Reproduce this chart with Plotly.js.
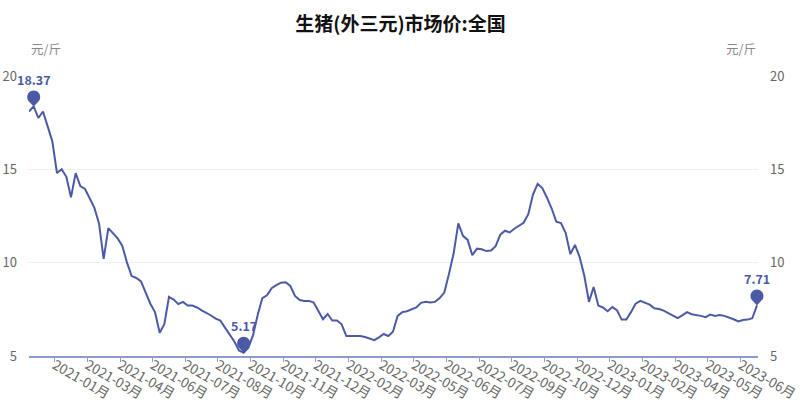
<!DOCTYPE html>
<html>
<head>
<meta charset="utf-8">
<script src="https://cdn.plot.ly/plotly-3.0.1.min.js"></script>
<style>html,body{margin:0;padding:0;background:#fff;}#chart{width:801px;height:413px;}</style>
</head>
<body>
<div id="chart"></div>
<script>
const dates = [
"2020-12-17","2020-12-23","2020-12-29",
"2021-01-04","2021-01-10","2021-01-16","2021-01-22","2021-01-28",
"2021-02-03","2021-02-09","2021-02-15","2021-02-21","2021-02-27",
"2021-03-05","2021-03-11","2021-03-17","2021-03-23","2021-03-29",
"2021-04-04","2021-04-10","2021-04-16","2021-04-22","2021-04-28",
"2021-05-04","2021-05-10","2021-05-16","2021-05-22","2021-05-28",
"2021-06-03","2021-06-09","2021-06-15","2021-06-21","2021-06-27",
"2021-07-03","2021-07-09","2021-07-15","2021-07-21","2021-07-27",
"2021-08-02","2021-08-08","2021-08-14","2021-08-20","2021-08-26",
"2021-09-01","2021-09-07","2021-09-13","2021-09-19","2021-09-25",
"2021-10-01","2021-10-07","2021-10-13","2021-10-19","2021-10-25","2021-10-31",
"2021-11-06","2021-11-12","2021-11-18","2021-11-24","2021-11-30",
"2021-12-06","2021-12-12","2021-12-18","2021-12-24","2021-12-30",
"2022-01-05","2022-01-11","2022-01-17","2022-01-23","2022-01-29",
"2022-02-04","2022-02-10","2022-02-16","2022-02-22","2022-02-28",
"2022-03-06","2022-03-12","2022-03-18","2022-03-24","2022-03-30",
"2022-04-05","2022-04-11","2022-04-17","2022-04-23","2022-04-29",
"2022-05-05","2022-05-11","2022-05-17","2022-05-23","2022-05-29",
"2022-06-04","2022-06-10","2022-06-16","2022-06-22","2022-06-28",
"2022-07-04","2022-07-10","2022-07-16","2022-07-22","2022-07-28",
"2022-08-03","2022-08-09","2022-08-15","2022-08-21","2022-08-27",
"2022-09-02","2022-09-08","2022-09-14","2022-09-20","2022-09-26",
"2022-10-02","2022-10-08","2022-10-14","2022-10-20","2022-10-26",
"2022-11-01","2022-11-07","2022-11-13","2022-11-19","2022-11-25",
"2022-12-01","2022-12-07","2022-12-13","2022-12-19","2022-12-25","2022-12-31",
"2023-01-06","2023-01-12","2023-01-18","2023-01-24","2023-01-30",
"2023-02-05","2023-02-11","2023-02-17","2023-02-23",
"2023-03-01","2023-03-07","2023-03-13","2023-03-19","2023-03-25","2023-03-31",
"2023-04-06","2023-04-12","2023-04-18","2023-04-24","2023-04-30",
"2023-05-06","2023-05-12","2023-05-18","2023-05-24","2023-05-30",
"2023-06-05","2023-06-11","2023-06-17","2023-06-23","2023-06-29",
"2023-07-05","2023-07-11"
];

const prices = [
18.1, 18.37, 17.75, 18.1, 17.3, 16.5, 14.8, 15.0, 14.6, 13.5,
14.8, 14.1, 13.95, 13.45, 12.95, 12.1, 10.2, 11.85, 11.6, 11.3,
10.9, 10.0, 9.28, 9.18, 9.0, 8.4, 7.8, 7.35, 6.25, 6.7,
8.17, 8.02, 7.78, 7.9, 7.7, 7.7, 7.6, 7.45, 7.33, 7.17,
7.0, 6.9, 6.52, 6.18, 5.78, 5.3, 5.17, 5.45, 6.1, 7.2,
8.1, 8.25, 8.63, 8.8, 8.93, 8.95, 8.75, 8.22, 8.0, 7.95,
7.95, 7.86, 7.42, 6.97, 7.25, 6.9, 6.9, 6.7, 6.07, 6.07,
6.07, 6.07, 6.02, 5.95, 5.85, 6.0, 6.18, 6.07, 6.3, 7.15,
7.35, 7.4, 7.5, 7.6, 7.85, 7.9, 7.87, 7.9, 8.1, 8.4,
9.4, 10.5, 12.1, 11.44, 11.22, 10.4, 10.75, 10.72, 10.62, 10.65,
10.88, 11.5, 11.71, 11.62, 11.82, 12.0, 12.14, 12.6, 13.65, 14.22,
14.0, 13.48, 12.9, 12.2, 12.12, 11.6, 10.46, 10.95, 10.3, 9.3,
7.9, 8.7, 7.7, 7.6, 7.4, 7.62, 7.45, 6.95, 6.95, 7.35,
7.8, 7.95, 7.87, 7.75, 7.56, 7.52, 7.43, 7.3, 7.18, 7.03,
7.18, 7.35, 7.24, 7.2, 7.15, 7.08, 7.22, 7.15, 7.2, 7.15,
7.08, 6.97, 6.85, 6.93, 6.95, 7.02, 7.71
];

const tickDates = [
"2021-01-19","2021-03-02","2021-04-13","2021-05-25","2021-07-06","2021-08-17",
"2021-09-28","2021-11-09","2021-12-21","2022-02-01","2022-03-15","2022-04-26",
"2022-06-07","2022-07-19","2022-08-30","2022-10-11","2022-11-22","2023-01-03",
"2023-02-14","2023-03-28","2023-05-09","2023-06-20"
];
const tickLabels = [
"2021-01月","2021-03月","2021-04月","2021-06月","2021-07月","2021-08月",
"2021-10月","2021-11月","2021-12月","2022-02月","2022-03月","2022-05月",
"2022-06月","2022-07月","2022-09月","2022-10月","2022-12月","2023-01月",
"2023-02月","2023-04月","2023-05月","2023-06月"
];
const yTicks = [5, 10, 15, 20];

const titleText = "生猪(外三元)市场价:全国";
const unitText = "元/斤";

const lineColor = "#4c5aa6";
const axisColor = "#8e9bc9";
const font = "Noto Sans CJK SC, Noto Sans, sans-serif";

// special points derived from the data
const maxV = Math.max(...prices);
const minV = Math.min(...prices);
const iMax = prices.indexOf(maxV);
const iMin = prices.indexOf(minV);
const iLast = prices.length - 1;
const marks = [iMax, iMin, iLast];

const pinPath = "M 0 0 L 4.74 5.05 C 5.87 6.26 6.5 7.85 6.5 9.5 C 6.5 13.09 3.59 16 0 16 C -3.59 16 -6.5 13.09 -6.5 9.5 C -6.5 7.85 -5.87 6.26 -4.74 5.05 Z";

const shapes = marks.map(i => ({
  type: "path", xref: "x", yref: "y",
  xsizemode: "pixel", ysizemode: "pixel",
  xanchor: dates[i], yanchor: prices[i],
  path: pinPath, fillcolor: lineColor, line: {width: 0}
}));

const annotations = marks.map(i => ({
  x: dates[i], y: prices[i], xref: "x", yref: "y",
  text: "<b>" + prices[i].toFixed(2) + "</b>",
  showarrow: false, yanchor: "middle", yshift: 27,
  font: {family: font, size: 12.5, color: lineColor}
}));
annotations.push({
  xref: "paper", yref: "paper", x: 0, y: 1, xanchor: "left", yanchor: "bottom",
  yshift: 16, text: unitText, showarrow: false,
  font: {family: font, size: 12.5, color: "#888"}
});
annotations.push({
  xref: "paper", yref: "paper", x: 1, y: 1, xanchor: "right", yanchor: "bottom",
  yshift: 16, text: unitText, showarrow: false,
  font: {family: font, size: 12.5, color: "#888"}
});

const trace = {
  x: dates, y: prices, type: "scatter", mode: "lines",
  line: {color: lineColor, width: 2},
  hoverinfo: "x+y"
};
const trace2 = {
  x: dates, y: prices, type: "scatter", mode: "lines", yaxis: "y2",
  line: {color: "rgba(0,0,0,0)", width: 0}, hoverinfo: "skip", showlegend: false
};

const yCommon = {
  range: [5, 20], tickmode: "array", tickvals: yTicks,
  showgrid: true, gridcolor: "#eef0f8", gridwidth: 1, zeroline: false,
  showline: false, ticks: "", ticklabelstandoff: 11,
  tickfont: {family: font, size: 13, color: "#666"}, fixedrange: true
};

const layout = {
  width: 801, height: 413,
  margin: {l: 29, r: 43, t: 76, b: 57},
  paper_bgcolor: "#fff", plot_bgcolor: "#fff",
  showlegend: false,
  title: {text: "<b>" + titleText + "</b>", x: 0.5, xanchor: "center", y: 0.94, yanchor: "middle",
          font: {family: font, size: 19, color: "#111"}},
  xaxis: {
    type: "date", range: ["2020-12-17", "2023-07-12 08:00"],
    tickmode: "array", tickvals: tickDates, ticktext: tickLabels,
    tickangle: 30, ticks: "outside", ticklen: 4, tickcolor: axisColor,
    ticklabelstandoff: -9,
    showline: true, linecolor: axisColor, linewidth: 1.5,
    showgrid: false, zeroline: false,
    tickfont: {family: font, size: 13.5, color: "#666"}
  },
  yaxis: Object.assign({}, yCommon, {side: "left"}),
  yaxis2: Object.assign({}, yCommon, {side: "right", overlaying: "y", showgrid: false}),
  shapes: shapes,
  annotations: annotations
};

Plotly.newPlot("chart", [trace, trace2], layout, {displayModeBar: false, staticPlot: true}).then(gd => {
  // let the pin markers extend past the plot edge, as in the original
  gd.querySelectorAll(".shapelayer path, .shapelayer g").forEach(el => el.removeAttribute("clip-path"));
});
</script>
</body>
</html>
